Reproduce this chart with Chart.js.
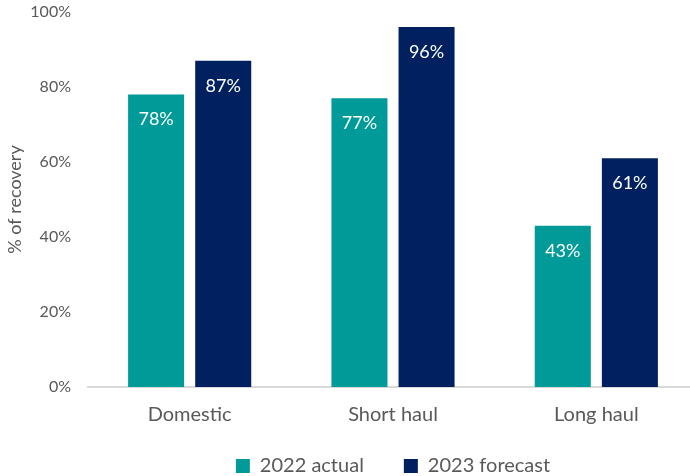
<!DOCTYPE html>
<html>
<head>
<meta charset="utf-8">
<script src="https://cdn.jsdelivr.net/npm/chart.js@4"></script>
<style>
html,body{margin:0;padding:0;background:#fff;overflow:hidden;}
#wrap{position:relative;width:698px;height:476px;}
</style>
</head>
<body>
<div id="wrap"><canvas id="c"></canvas></div>
<script>
const categories = ["Domestic", "Short haul", "Long haul"];
const actual2022 = [78, 77, 43];
const forecast2023 = [87, 96, 61];
const seriesNames = ["2022 actual", "2023 forecast"];
const yTicks = [0, 20, 40, 60, 80, 100];

const FONT = "Lato, 'Liberation Sans', sans-serif";
const GREY = "#595959";

const labelPlugin = {
  id: 'barLabels',
  afterLayout(chart) {
    // let category labels draw below the (short) x-axis box
    chart.scales.x._computeLabelArea = () => undefined;
  },
  afterDatasetsDraw(chart) {
    const ctx = chart.ctx;
    ctx.save();
    ctx.fillStyle = '#ffffff';
    ctx.font = "18px " + FONT;
    ctx.textAlign = 'center';
    ctx.textBaseline = 'middle';
    chart.data.datasets.forEach((ds, i) => {
      chart.getDatasetMeta(i).data.forEach((bar, j) => {
        ctx.fillText(ds.data[j] + '%', bar.x, bar.y + 25);
      });
    });
    ctx.restore();
  }
};

new Chart(document.getElementById('c'), {
  type: 'bar',
  data: {
    labels: categories,
    datasets: [
      { label: seriesNames[0], data: actual2022, backgroundColor: '#009a99' },
      { label: seriesNames[1], data: forecast2023, backgroundColor: '#002060' }
    ]
  },
  options: {
    responsive: true,
    maintainAspectRatio: false,
    animation: false,
    layout: { padding: { top: 12, right: 0, left: 0, bottom: 0 } },
    datasets: { bar: { categoryPercentage: 0.66, barPercentage: 0.835 } },
    plugins: {
      legend: {
        position: 'bottom',
        fullSize: false,
        maxHeight: 60,
        labels: {
          color: GREY,
          font: { family: FONT, size: 20 },
          boxWidth: 14,
          boxHeight: 14,
          padding: 40
        }
      },
      tooltip: { enabled: false }
    },
    scales: {
      x: {
        grid: { display: false, drawTicks: false },
        border: { display: true, color: '#D9D9D9', width: 2 },
        ticks: { color: GREY, font: { family: FONT, size: 20 }, padding: 16 },
        afterFit(s) { s.height = 29; }
      },
      y: {
        min: 0, max: 100,
        afterBuildTicks(s) { s.ticks = yTicks.map(v => ({ value: v })); },
        grid: { display: false, drawTicks: false },
        border: { display: false },
        ticks: { color: GREY, font: { family: FONT, size: 16 }, padding: 17, callback: v => v + '%' },
        title: { display: true, text: '% of recovery', color: GREY, font: { family: FONT, size: 18 }, padding: { top: 4, bottom: 0 } },
        afterFit(s) { s.width = 88; s.paddingTop = 0; s.paddingBottom = 0; }
      }
    }
  },
  plugins: [labelPlugin]
});
</script>
</body>
</html>
